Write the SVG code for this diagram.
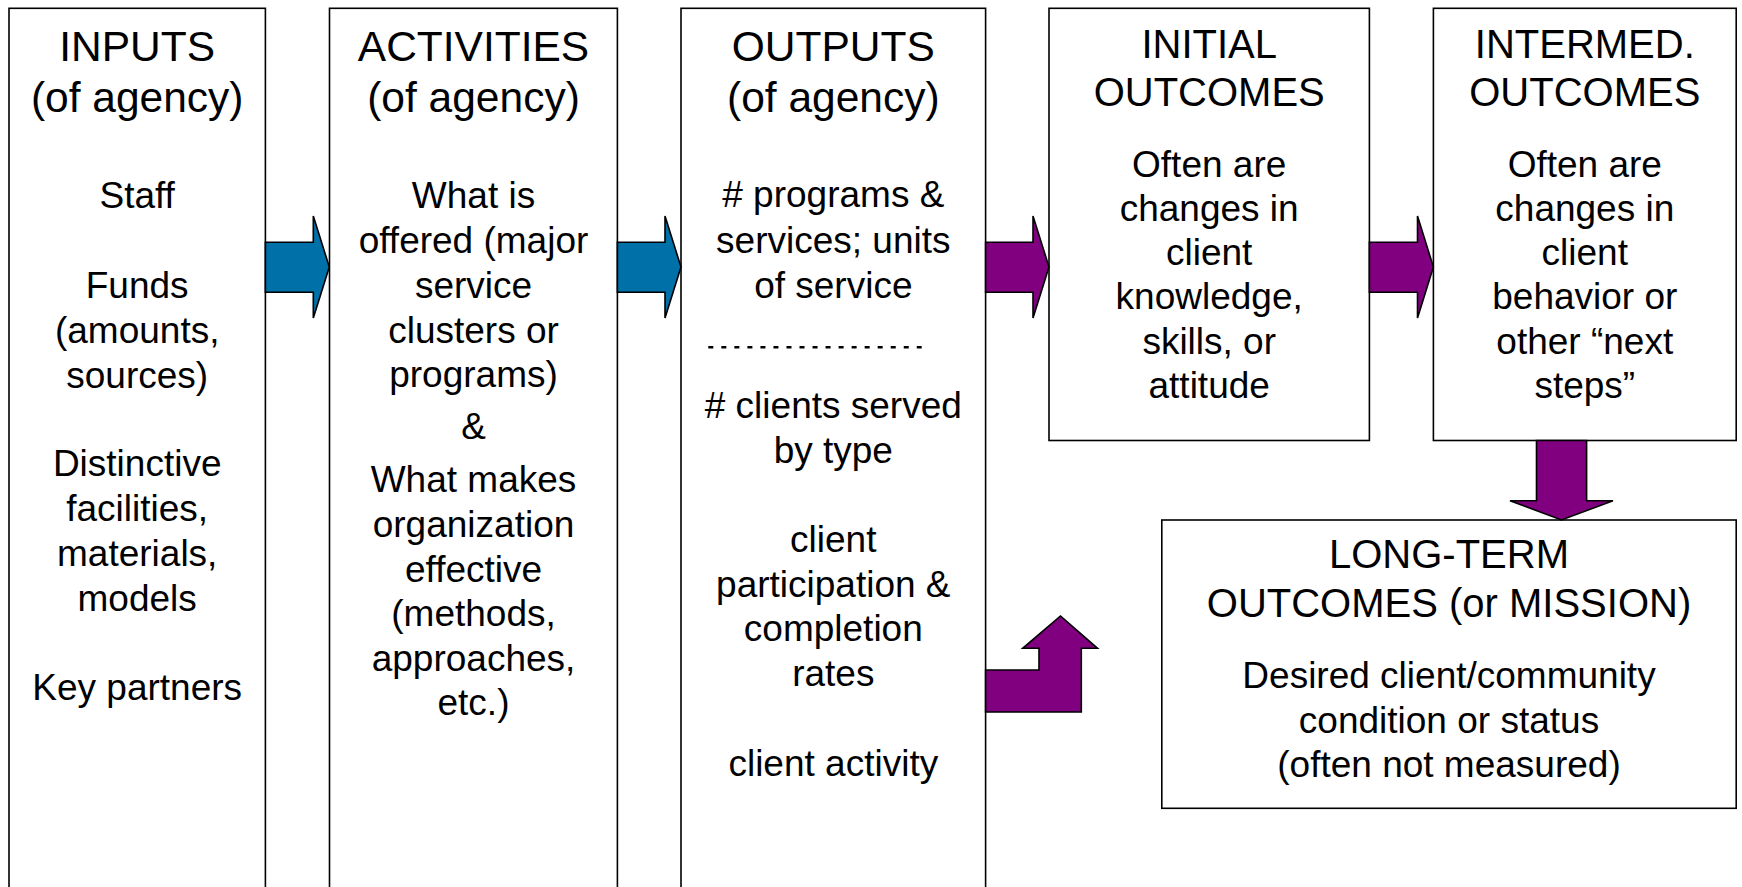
<svg xmlns="http://www.w3.org/2000/svg" width="1742" height="887" viewBox="0 0 1742 887">
<style>
.box{fill:#fff;stroke:#000;stroke-width:1.6}
.t{font-family:"Liberation Sans",Arial,sans-serif;fill:#000;text-anchor:middle}
.h{font-size:42.5px}
.h2{font-size:40px}
.b{font-size:37px}
.blue{fill:#0070A8;stroke:#000;stroke-width:1.6;stroke-linejoin:miter}
.purple{fill:#800080;stroke:#000;stroke-width:1.6;stroke-linejoin:miter}
</style>
<rect width="1742" height="887" fill="#fff"/>
<g id="inputs">
<rect class="box" x="9" y="8.3" width="256.4" height="900"/>
<text class="t h" x="137.2" y="61">INPUTS</text>
<text class="t h" x="137.2" y="111.7">(of agency)</text>
<text class="t b" x="137.2" y="208">Staff</text>
<text class="t b" x="137.2" y="297.7">Funds</text>
<text class="t b" x="137.2" y="342.5">(amounts,</text>
<text class="t b" x="137.2" y="387.5">sources)</text>
<text class="t b" x="137.2" y="476">Distinctive</text>
<text class="t b" x="137.2" y="521">facilities,</text>
<text class="t b" x="137.2" y="566">materials,</text>
<text class="t b" x="137.2" y="610.5">models</text>
<text class="t b" x="137.2" y="700">Key partners</text>
</g>
<g id="activities">
<rect class="box" x="329.5" y="8.3" width="287.9" height="900"/>
<text class="t h" x="473.5" y="61">ACTIVITIES</text>
<text class="t h" x="473.5" y="111.7">(of agency)</text>
<text class="t b" x="473.5" y="208">What is</text>
<text class="t b" x="473.5" y="253">offered (major</text>
<text class="t b" x="473.5" y="297.5">service</text>
<text class="t b" x="473.5" y="342.5">clusters or</text>
<text class="t b" x="473.5" y="387">programs)</text>
<text class="t b" x="473.5" y="439">&amp;</text>
<text class="t b" x="473.5" y="491.7">What makes</text>
<text class="t b" x="473.5" y="536.5">organization</text>
<text class="t b" x="473.5" y="581.5">effective</text>
<text class="t b" x="473.5" y="626">(methods,</text>
<text class="t b" x="473.5" y="670.5">approaches,</text>
<text class="t b" x="473.5" y="715">etc.)</text>
</g>
<g id="outputs">
<rect class="box" x="681" y="8.3" width="304.6" height="900"/>
<text class="t h" x="833.3" y="61">OUTPUTS</text>
<text class="t h" x="833.3" y="111.7">(of agency)</text>
<text class="t b" x="833.3" y="206.7"># programs &amp;</text>
<text class="t b" x="833.3" y="252.5">services; units</text>
<text class="t b" x="833.3" y="297.5">of service</text>
<line x1="708.3" y1="347.3" x2="921.7" y2="347.3" stroke="#000" stroke-width="2.6" stroke-dasharray="5 8.03"/>
<text class="t b" x="833.3" y="418"># clients served</text>
<text class="t b" x="833.3" y="463">by type</text>
<text class="t b" x="833.3" y="551.7">client</text>
<text class="t b" x="833.3" y="596.5">participation &amp;</text>
<text class="t b" x="833.3" y="641.3">completion</text>
<text class="t b" x="833.3" y="686">rates</text>
<text class="t b" x="833.3" y="775.5">client activity</text>
</g>
<g id="initial">
<rect class="box" x="1049" y="8.3" width="320.4" height="432.2"/>
<text class="t h2" x="1209.2" y="58.3">INITIAL</text>
<text class="t h2" x="1209.2" y="106">OUTCOMES</text>
<text class="t b" x="1209.2" y="176.5">Often are</text>
<text class="t b" x="1209.2" y="220.8">changes in</text>
<text class="t b" x="1209.2" y="265.1">client</text>
<text class="t b" x="1209.2" y="309.4">knowledge,</text>
<text class="t b" x="1209.2" y="353.7">skills, or</text>
<text class="t b" x="1209.2" y="398">attitude</text>
</g>
<g id="intermed">
<rect class="box" x="1433.4" y="8.3" width="302.8" height="432.2"/>
<text class="t h2" x="1584.8" y="58.3">INTERMED.</text>
<text class="t h2" x="1584.8" y="106">OUTCOMES</text>
<text class="t b" x="1584.8" y="176.5">Often are</text>
<text class="t b" x="1584.8" y="220.8">changes in</text>
<text class="t b" x="1584.8" y="265.1">client</text>
<text class="t b" x="1584.8" y="309.4">behavior or</text>
<text class="t b" x="1584.8" y="353.7">other “next</text>
<text class="t b" x="1584.8" y="398">steps”</text>
</g>
<g id="longterm">
<rect class="box" x="1161.8" y="520" width="574.4" height="288.3"/>
<text class="t h2" x="1449" y="568.3">LONG-TERM</text>
<text class="t h2" x="1449" y="616.7">OUTCOMES (or MISSION)</text>
<text class="t b" x="1449" y="688.3">Desired client/community</text>
<text class="t b" x="1449" y="732.6">condition or status</text>
<text class="t b" x="1449" y="776.9">(often not measured)</text>
</g>
<g id="connectors">
<path class="blue" d="M265.4,242.3 H313.3 V216 L329.3,267 L313.3,318 V292.3 H265.4 Z"/>
<path class="blue" d="M617.4,242.3 H665 V216 L681,267 L665,318 V292.3 H617.4 Z"/>
<path class="purple" d="M985.6,242.3 H1033 V216 L1049,267 L1033,318 V292.3 H985.6 Z"/>
<path class="purple" d="M1369.4,242.3 H1417.5 V216 L1433.4,267 L1417.5,318 V292.3 H1369.4 Z"/>
<path class="purple" d="M1536.5,440.5 H1586.6 V500.7 H1613 L1561.5,520 L1510,500.7 H1536.5 Z"/>
<path class="purple" d="M985.6,670 H1039 V648.3 H1022.7 L1060.5,616 L1097.5,648.3 H1081.3 V712 H985.6 Z"/>
</g>
</svg>
